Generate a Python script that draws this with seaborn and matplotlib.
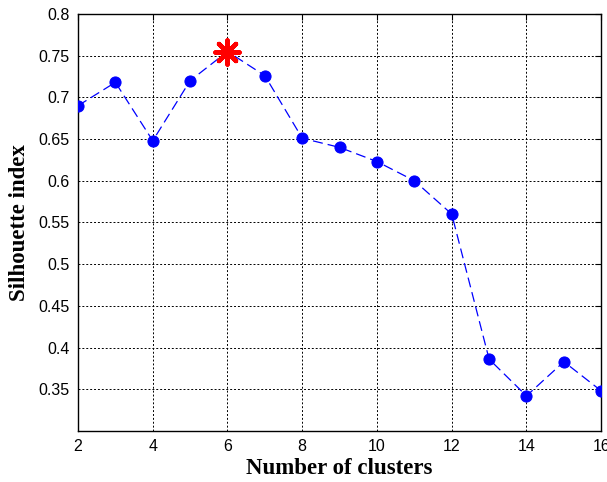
import numpy as np
import pandas as pd
import matplotlib
matplotlib.use("Agg")
import matplotlib.pyplot as plt
import seaborn as sns

# Donnees
n_clusters = [2, 3, 4, 5, 6, 7, 8, 9, 10, 11, 12, 13, 14, 15, 16]
silhouette = [0.690, 0.718, 0.648, 0.720, 0.755, 0.726, 0.651, 0.640,
              0.623, 0.600, 0.560, 0.386, 0.342, 0.383, 0.348]
best_k = [6]
best_score = [0.755]

sns.set_theme(style="white")
plt.rcParams["font.family"] = ["Liberation Sans", "DejaVu Sans"]

df = pd.DataFrame({"k": n_clusters, "s": silhouette})
best = pd.DataFrame({"k": best_k, "s": best_score})

fig = plt.figure(figsize=(6.07, 4.82), dpi=100)
ax = fig.add_axes([0.1285, 0.106, 0.862, 0.865])

sns.lineplot(data=df, x="k", y="s", ax=ax, color="blue", lw=0.9,
             marker="o", markersize=8, markeredgecolor="blue",
             markerfacecolor="blue", zorder=3)
ax.lines[0].set_dashes([8, 4])
sns.scatterplot(data=best, x="k", y="s", ax=ax, color="red",
                marker=(8, 2, 0), s=300, linewidth=3.2,
                edgecolor="red", zorder=4)

ax.set_xlim(2, 16)
ax.set_ylim(0.3, 0.8)
ax.set_xticks(range(2, 17, 2))
ax.set_yticks(np.arange(0.35, 0.801, 0.05))
ax.set_yticklabels(["0.35", "0.4", "0.45", "0.5", "0.55", "0.6", "0.65",
                    "0.7", "0.75", "0.8"])
ax.grid(True, color="black", linestyle=(0, (2, 2)), linewidth=0.7)
for sp in ax.spines.values():
    sp.set_color("black")
    sp.set_linewidth(1.0)
ax.tick_params(direction="in", length=4, width=0.8, top=True, right=True,
               labelsize=11.5, colors="black", pad=6)

ax.set_xlabel("Number of clusters", fontsize=16.5, fontweight="bold",
              family="Liberation Serif", color="black", labelpad=3)
ax.set_ylabel("Silhouette index", fontsize=16.5, fontweight="bold",
              family="Liberation Serif", color="black", labelpad=6)

fig.savefig("out.png", dpi=100)
